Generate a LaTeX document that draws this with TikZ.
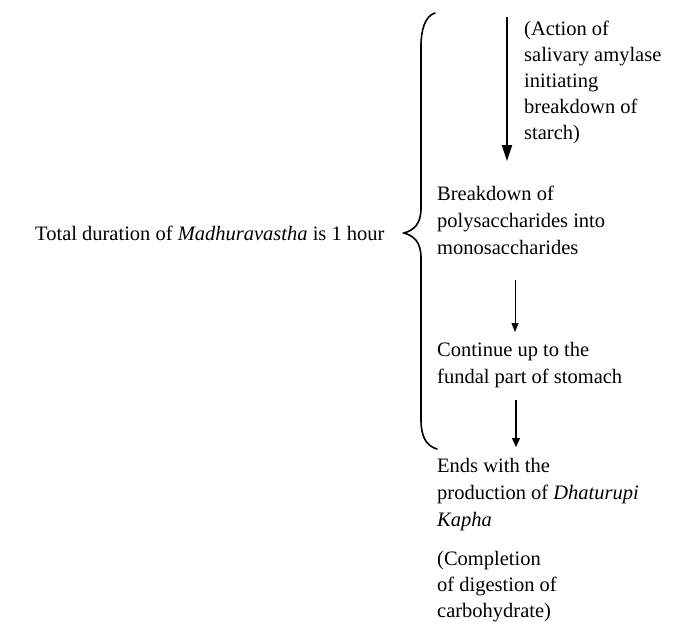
\documentclass[tikz,border=0pt]{standalone}
\usepackage{fontspec}
\setmainfont{Liberation Serif}
\usetikzlibrary{arrows.meta}
\begin{document}
\begin{tikzpicture}[x=1pt,y=-1pt,
  txt/.style={anchor=north west,inner sep=0pt,align=left,font=\fontsize{20.5}{27}\selectfont},
  brace/.style={line width=1.6pt,line cap=round},
  bigarr/.style={line width=2pt,-{Triangle[length=16pt,width=10pt]}},
  smallarr/.style={line width=0.8pt,-{Triangle[length=9pt,width=7pt]}},
  midarr/.style={line width=1.3pt,-{Triangle[length=9pt,width=8pt]}}]
\useasboundingbox (0,0) rectangle (690,623);
\node[anchor=base west,inner sep=0pt,font=\fontsize{20.5}{27}\selectfont] (total) at (35,240)
  {Total duration of \textit{Madhuravastha} is 1 hour};
\node[txt,font=\fontsize{20.5}{26}\selectfont] (action) at (524,21)
  {(Action of\\salivary amylase\\initiating\\breakdown of\\starch)};
\node[txt] (breakdown) at (437,186) {Breakdown of\\polysaccharides into\\monosaccharides};
\node[txt] (fundal) at (437,342) {Continue up to the\\fundal part of stomach};
\node[txt] (ends) at (437,458) {Ends with the\\production of \textit{Dhaturupi}\\\textit{Kapha}};
\node[txt,font=\fontsize{20.5}{26}\selectfont] (completion) at (437,551)
  {(Completion\\of digestion of\\carbohydrate)};
\draw[brace] (435,13) .. controls (425,16) and (421,30) .. (421,46) -- (421,208)
  .. controls (421,224) and (414,230) .. (404,233)
  .. controls (414,236) and (421,242) .. (421,258) -- (421,420)
  .. controls (421,436) and (426,446) .. (437,449);
\coordinate (a1) at (507,17);
\coordinate (a2) at (507,161);
\draw[bigarr] (a1) -- (a2);
\coordinate (b1) at (515,280);
\coordinate (b2) at (515,332);
\draw[smallarr] (b1) -- (b2);
\coordinate (c1) at (516,400);
\coordinate (c2) at (516,447);
\draw[midarr] (c1) -- (c2);
\end{tikzpicture}
\end{document}
